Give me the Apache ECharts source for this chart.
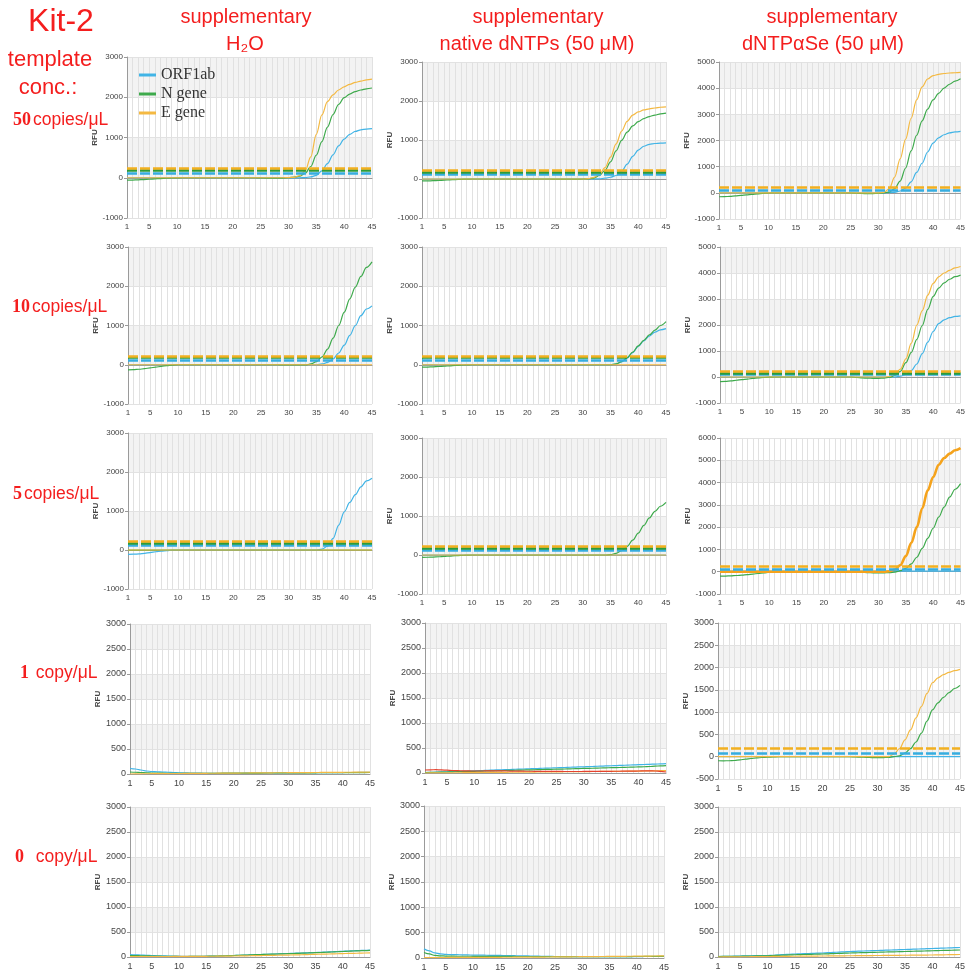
<!DOCTYPE html>
<html><head><meta charset="utf-8">
<script src="https://cdn.jsdelivr.net/npm/echarts@6/dist/echarts.min.js"></script>
<style>html,body{margin:0;padding:0;background:#fff}#c{width:968px;height:980px}</style>
</head><body><div id="c"></div><script>
const cycles = ['1','2','3','4','5','6','7','8','9','10','11','12','13','14','15','16','17','18','19','20','21','22','23','24','25','26','27','28','29','30','31','32','33','34','35','36','37','38','39','40','41','42','43','44','45'];
const xTickLabels = ['1','5','10','15','20','25','30','35','40','45'];
const genes = ['ORF1ab','N gene','E gene'];
const columnTitles = [['supplementary','H₂O'],['supplementary','native dNTPs (50 μM)'],['supplementary','dNTPαSe (50 μM)']];
const rowLabels = [['50','copies/μL'],['10','copies/μL'],['5','copies/μL'],['1',' copy/μL'],['0','  copy/μL']];

// row 1: 50 copies/uL
const h2o50_orf = [0,0,0,0,0,0,0,0,0,0, 0,0,0,0,0,0,0,0,0,0, 0,0,0,0,0,0,0,-5,-5,-5, -5,0,5,20,60, 170,350,570,790,960, 1080,1150,1190,1210,1220];
const h2o50_n = [-60,-58,-52,-45,-37,-28,-20,-12,-6,-2, 0,0,0,0,0,0,0,0,0,0, 0,0,0,0,-5,-8,-10,-10,-8,0, 15,40,110,280,560, 900,1260,1570,1820,1990, 2080,2140,2180,2210,2230];
const h2o50_e = [0,0,0,0,0,0,0,0,0,0, 0,0,0,0,0,0,0,0,0,0, 0,0,0,0,0,0,0,0,0,5, 10,50,170,520,1080, 1560,1890,2060,2180,2260, 2320,2370,2400,2430,2450];
const dntp50_orf = [0,0,0,0,0,0,0,0,0,0, 0,0,0,0,0,0,0,0,0,0, 0,0,0,0,0,0,0,0,0,0, 0,0,5,20,45, 90,200,380,580,740, 840,890,910,920,925];
const dntp50_n = [-50,-48,-44,-38,-30,-22,-15,-8,-3,0, 0,0,0,0,0,0,0,0,0,0, 0,0,0,0,-5,-5,-5,-5,-5,0, 5,25,90,220,440, 720,990,1200,1360,1470, 1550,1600,1640,1670,1690];
const dntp50_e = [0,0,0,0,0,0,0,0,0,0, 0,0,0,0,0,0,0,0,0,0, 0,0,0,0,0,0,0,0,0,0, 10,40,120,290,560, 900,1230,1480,1640,1720, 1770,1800,1820,1840,1850];
const se50_orf = [0,0,0,0,0,0,0,0,0,0, 0,0,0,0,0,0,0,0,0,0, 0,0,0,0,0,0,0,0,0,0, 0,5,20,70,180, 420,780,1130,1560,1900, 2100,2220,2290,2330,2350];
const se50_n = [-150,-145,-135,-120,-100,-80,-60,-40,-20,-8, 0,0,0,0,0,0,0,0,0,0, 0,0,0,0,-5,-15,-25,-30,-30,-20, 0,30,160,450,950, 1600,2200,2750,3200,3550, 3800,4000,4150,4270,4360];
const se50_e = [0,0,0,0,0,0,0,0,0,0, 0,0,0,0,0,0,0,0,0,0, 0,0,0,0,0,0,0,0,0,0, 20,150,600,1300,2050, 2850,3550,4050,4350,4480, 4530,4560,4580,4590,4600];

// row 2: 10 copies/uL
const h2o10_orf = [0,0,0,0,0,0,0,0,0,0, 0,0,0,0,0,0,0,0,0,0, 0,0,0,0,0,0,0,0,0,0, 0,0,0,0,0, 20,60,150,300,500, 750,1000,1250,1420,1500];
const h2o10_n = [-130,-125,-115,-100,-80,-60,-40,-20,-8,0, 0,0,0,0,0,0,0,0,0,0, 0,0,0,0,0,0,0,0,-5,-5, -5,-5,-5,20,80, 200,400,680,1000,1340, 1680,1980,2250,2480,2620];
const h2o10_e = [0,0,0,0,0,0,0,0,0,0, 0,0,0,0,0,0,0,0,0,0, 0,0,0,0,0,0,0,0,0,0, 0,0,0,0,0, 0,0,0,0,0, 0,0,0,0,0];
const dntp10_orf = [0,0,0,0,0,0,0,0,0,0, 0,0,0,0,0,0,0,0,0,0, 0,0,0,0,0,0,0,0,0,0, 0,0,0,0,0, 15,70,170,310,470, 610,730,830,890,920];
const dntp10_n = [-60,-58,-52,-45,-36,-27,-18,-10,-4,0, 0,0,0,0,0,0,0,0,0,0, 0,0,0,0,0,0,0,0,0,0, 0,0,0,0,0, 20,80,180,320,480, 620,760,880,1000,1100];
const dntp10_e = [0,0,0,0,0,0,0,0,0,0, 0,0,0,0,0,0,0,0,0,0, 0,0,0,0,0,0,0,0,0,0, 0,0,0,0,0, 0,0,0,0,0, 0,0,0,0,0];
const se10_orf = [0,0,0,0,0,0,0,0,0,0, 0,0,0,0,0,0,0,0,0,0, 0,0,0,0,0,0,0,0,0,0, 0,0,0,30,100, 250,500,900,1340,1750, 2050,2200,2280,2330,2350];
const se10_n = [-180,-170,-150,-125,-100,-80,-55,-35,-20,-8, 0,0,0,0,0,0,0,0,0,0, 0,0,0,0,0,-20,-35,-45,-50,-50, -40,-10,60,220,550, 950,1450,1980,2600,3100, 3420,3620,3760,3860,3920];
const se10_e = [0,0,0,0,0,0,0,0,0,0, 0,0,0,0,0,0,0,0,0,0, 0,0,0,0,0,0,0,0,0,0, 0,20,100,300,700, 1300,2000,2550,3150,3600, 3850,4000,4100,4200,4250];

// row 3: 5 copies/uL
const h2o5_orf = [-110,-108,-100,-85,-65,-45,-28,-15,-5,0, 0,0,0,0,0,0,0,0,0,0, 0,0,0,0,0,0,0,0,0,0, 0,0,0,0,0, 20,100,300,640,980, 1220,1420,1620,1770,1840];
const h2o5_n = [-5,-5,-4,-3,-2,-1,0,0,0,0, 0,0,0,0,0,0,0,0,0,0, 0,0,0,0,0,0,0,0,0,0, 0,0,0,0,0, 0,0,0,0,0, 0,0,0,0,0];
const h2o5_e = [0,0,0,0,0,0,0,0,0,0, 0,0,0,0,0,0,0,0,0,0, 0,0,0,0,0,0,0,0,0,0, 0,0,0,0,0, 0,0,0,0,0, 0,0,0,0,0];
const dntp5_orf = [0,0,0,0,0,0,0,0,0,0, 0,0,0,0,0,0,0,0,0,0, 0,0,0,0,0,0,0,0,0,0, 0,0,0,0,0, 0,0,0,0,0, 0,0,0,0,0];
const dntp5_n = [-60,-58,-52,-45,-36,-27,-18,-10,-4,0, 0,0,0,0,0,0,0,0,0,0, 0,0,0,0,0,0,0,0,0,0, 0,0,0,0,10, 40,110,220,380,560, 760,950,1120,1250,1350];
const dntp5_e = [0,0,0,0,0,0,0,0,0,0, 0,0,0,0,0,0,0,0,0,0, 0,0,0,0,0,0,0,0,0,0, 0,0,0,0,0, 0,0,0,0,0, 0,0,0,0,0];
const se5_orf = [30,30,30,30,30,30,30,30,30,30, 30,30,30,30,30,30,30,30,30,30, 30,30,30,30,30,30,30,30,30,30, 30,30,30,30,30, 30,30,30,30,30, 30,30,30,30,30];
const se5_n = [-200,-195,-185,-170,-150,-130,-105,-80,-50,-25, -10,0,0,0,0,0,0,0,0,0, 0,0,0,0,0,-10,-25,-40,-50,-50, -50,-45,-20,50,150, 350,650,1050,1500,1950, 2450,2900,3350,3700,3950];
const se5_e = [0,0,0,0,0,0,0,0,0,0, 0,0,0,0,0,0,0,0,0,0, 0,0,0,0,0,0,0,0,0,0, 0,20,100,300,700, 1300,2000,2850,3650,4250, 4800,5100,5300,5450,5550];

// row 4: 1 copy/uL
const h2o1_orf = [110,100,80,60,50,45,40,35,30,25, 22,20,18,16,15,15,15,15,15,15, 15,16,17,18,18,19,20,20,21,22, 22,23,24,25,25, 26,27,28,28,29, 30,30,31,31,32];
const h2o1_n = [40,35,30,25,20,18,16,15,15,15, 15,15,15,15,15,15,15,16,16,17, 17,18,18,19,19,20,20,21,21,22, 22,23,23,24,24, 25,25,26,26,27, 27,28,28,29,30];
const h2o1_e = [0,2,4,5,6,7,8,9,10,10, 11,12,13,13,14,15,16,17,17,18, 19,20,21,21,22,23,24,25,25,26, 27,28,29,29,30, 31,32,33,33,34, 35,36,37,37,38];
const dntp1_orf = [10,14,17,21,24,28,33,36,40,45, 48,53,56,61,64,69,72,77,80,85, 88,93,97,100,105,108,113,116,121,124, 129,132,137,141,145, 149,153,158,161,166, 170,174,178,183,188];
const dntp1_n = [10,12,15,18,20,23,26,29,31,34, 37,40,43,45,48,51,54,57,60,62, 65,68,71,74,77,79,82,85,88,91, 94,97,100,103,106, 109,112,115,118,121, 125,130,137,143,148];
const dntp1_e = [0,1,2,3,3,4,5,6,7,8, 9,10,11,12,13,14,15,16,17,18, 19,20,21,22,23,24,25,26,27,28, 29,30,31,32,33, 34,35,36,37,38, 40,42,44,46,48];
const dntp1_other = [60,64,66,62,56,50,46,43,41,40, 40,41,42,43,42,40,38,37,36,35, 34,33,32,32,31,31,30,30,30,31, 32,32,33,33,34, 35,36,37,38,40, 42,42,40,32,20];
const se1_orf = [0,0,0,0,0,0,0,0,0,0, 0,0,0,0,0,0,0,0,0,0, 0,0,0,0,0,0,0,0,0,0, 0,0,0,0,0, 0,0,0,0,0, 0,0,0,0,0];
const se1_n = [-90,-92,-90,-85,-70,-55,-40,-28,-18,-10, -5,0,0,0,0,0,0,0,0,0, 0,0,0,0,0,-5,-10,-15,-20,-20, -20,-15,0,20,80, 180,330,530,800,1050, 1210,1330,1440,1530,1600];
const se1_e = [0,0,0,0,0,0,0,0,0,0, 0,0,0,0,0,0,0,0,0,0, 0,0,0,0,0,0,0,0,0,0, 0,0,60,180,380, 600,870,1130,1420,1660, 1770,1840,1890,1930,1960];

// row 5: 0 copy/uL
const h2o0_orf = [50,45,40,35,30,25,22,20,18,16, 15,15,15,15,16,18,20,23,26,30, 33,37,41,45,50,54,58,62,66,70, 74,78,82,86,90, 95,100,105,110,115, 120,125,130,135,140];
const h2o0_n = [30,28,25,22,20,18,15,13,12,10, 10,11,12,13,15,17,20,23,27,30, 34,38,42,46,50,53,56,60,63,66, 70,74,78,82,86, 90,95,100,105,110, 115,120,124,128,132];
const h2o0_e = [10,10,10,10,10,10,10,10,11,11, 12,12,13,13,14,15,16,17,18,20, 21,23,25,27,29,31,33,35,37,39, 41,44,47,50,53, 56,59,62,65,68, 71,74,77,80,83];
const dntp0_orf = [180,140,100,80,70,68,65,63,60,58, 57,55,53,51,50,48,46,44,42,40, 38,36,34,32,30,29,28,27,26,25, 25,25,25,26,26, 27,27,28,28,29, 29,30,30,30,31];
const dntp0_n = [110,80,50,42,38,36,35,35,35,34, 34,33,33,32,32,31,31,30,30,30, 29,29,28,28,27,27,26,26,25,25, 25,26,26,27,27, 28,28,29,29,30, 30,31,31,32,32];
const dntp0_e = [10,10,10,10,10,11,11,11,12,12, 12,13,13,14,14,15,15,16,16,17, 18,18,19,20,21,22,23,24,25,26, 27,28,29,30,31, 32,33,34,35,36, 37,38,39,40,41];
const se0_orf = [10,12,14,17,20,23,25,27,29,30, 35,42,50,55,60,64,68,72,76,80, 86,92,98,104,110,114,118,122,126,130, 134,138,142,146,150, 154,158,162,166,170, 174,178,182,186,190];
const se0_n = [10,11,12,13,15,17,19,21,23,25, 29,33,37,41,45,48,51,54,57,60, 64,68,72,76,80,83,86,89,92,95, 98,101,104,107,110, 113,116,119,122,125, 128,131,134,137,140];
const se0_e = [0,1,2,3,4,5,6,7,8,10, 11,12,13,14,15,16,17,18,19,20, 21,22,23,24,25,26,27,28,29,30, 31,32,33,34,35, 36,37,38,39,40, 42,44,46,48,50];

// thresholds [ORF1ab, N gene, E gene] per panel
const thresholds = [
  [[120,180,230],[120,185,225],[110,null,215]],
  [[120,180,225],[120,180,225],[100,160,220]],
  [[120,180,225],[120,180,225],[100,null,230]],
  [[null,null,null],[null,null,null],[70,null,180]],
  [[null,null,null],[null,null,null],[null,null,null]]
];
// y axis [min, max, interval] per panel
const yRanges = [
  [[-1000,3000,1000],[-1000,3000,1000],[-1000,5000,1000]],
  [[-1000,3000,1000],[-1000,3000,1000],[-1000,5000,1000]],
  [[-1000,3000,1000],[-1000,3000,1000],[-1000,6000,1000]],
  [[0,3000,500],[0,3000,500],[-500,3000,500]],
  [[0,3000,500],[0,3000,500],[0,3000,500]]
];

const panels = [
  [[h2o50_orf,h2o50_n,h2o50_e],[dntp50_orf,dntp50_n,dntp50_e],[se50_orf,se50_n,se50_e]],
  [[h2o10_orf,h2o10_n,h2o10_e],[dntp10_orf,dntp10_n,dntp10_e],[se10_orf,se10_n,se10_e]],
  [[h2o5_orf,h2o5_n,h2o5_e],[dntp5_orf,dntp5_n,dntp5_e],[se5_orf,se5_n,se5_e]],
  [[h2o1_orf,h2o1_n,h2o1_e],[dntp1_orf,dntp1_n,dntp1_e,dntp1_other],[se1_orf,se1_n,se1_e]],
  [[h2o0_orf,h2o0_n,h2o0_e],[dntp0_orf,dntp0_n,dntp0_e],[se0_orf,se0_n,se0_e]]
];

// layout (left, top, width, height) per panel
const layout = [
  [[127,57,245,161],[422,62,244,156],[719,62,243,157]],
  [[128,247,244,157],[422,247,244,157],[720,247,242,156]],
  [[128,433,244,156],[422,438,244,156],[720,438,242,156]],
  [[130,624,240,150],[425,623,241,150],[718,623,244,156]],
  [[130,807,240,150],[424,806,240,152],[718,807,244,150]]
];
const lineColors = ['#41b4e6','#3eaa4c','#f4b942'];
const thrColors = ['#36ade0','#2a9c3a','#f2b020'];
const otherColor = '#e5432f';
const red = '#f41e1e';

const grids = [], xAxes = [], yAxes = [], series = [];
let k = 0;
for (let r = 0; r < 5; r++) {
  for (let c = 0; c < 3; c++) {
    const [l, t, w, h] = layout[r][c];
    const [mn, mx, iv] = yRanges[r][c];
    const fs = r < 3 ? 8 : 9;
    grids.push({left: l, top: t, width: w, height: h, containLabel: false});
    xAxes.push({
      type: 'category', data: cycles, gridIndex: k, boundaryGap: false,
      axisLine: {show: true, lineStyle: {color: '#9a9a9a', width: 1}},
      axisTick: {show: false},
      axisLabel: {interval: (i, v) => xTickLabels.includes(v), fontSize: fs, color: '#444', fontFamily: 'Liberation Sans', margin: 5},
      splitLine: {show: true, interval: 0, lineStyle: {color: '#e1e1e1', width: 1}}
    });
    yAxes.push({
      type: 'value', gridIndex: k, min: mn, max: mx, interval: iv,
      name: 'RFU', nameLocation: 'middle', nameGap: 25,
      nameTextStyle: {fontSize: 8, color: '#444', fontFamily: 'Liberation Sans', fontWeight: 'bold'},
      axisLine: {show: true, lineStyle: {color: '#9a9a9a', width: 1}},
      axisTick: {show: true, length: 3, lineStyle: {color: '#9a9a9a'}},
      axisLabel: {fontSize: fs, color: '#444', fontFamily: 'Liberation Sans', margin: 4, showMinLabel: true, showMaxLabel: true,
        formatter: v => String(v)},
      splitLine: {show: true, lineStyle: {color: '#e2e2e2', width: 1}},
      splitArea: {show: true, areaStyle: {color: ['#ffffff', '#f3f3f3']}}
    });
    const sets = panels[r][c];
    for (let g = 0; g < sets.length; g++) {
      const isOther = g === 3;
      const color = isOther ? otherColor : lineColors[g];
      const thick = (r === 2 && c === 2 && g === 2);
      const s = {
        type: 'line', name: isOther ? 'other' : genes[g], data: sets[g],
        xAxisIndex: k, yAxisIndex: k, smooth: 0.35, smoothMonotone: 'x',
        showSymbol: false, symbol: 'none', silent: true,
        lineStyle: {color: thick ? '#f5a31c' : color, width: thick ? 2.6 : 1.2},
        itemStyle: {color: color}, emphasis: {disabled: true}, z: 3
      };
      const th = isOther ? null : thresholds[r][c][g];
      if (th != null) {
        s.markLine = {
          silent: true, symbol: ['none', 'none'], label: {show: false},
          lineStyle: {color: thrColors[g], width: 2.5, type: [10, 3], opacity: 1},
          emphasis: {disabled: true},
          data: [{yAxis: th}]
        };
      }
      series.push(s);
    }
    k++;
  }
}

const graphics = [];
function txt(text, x, y, size, align, extra) {
  graphics.push({type: 'text', x: x, y: y, silent: true,
    style: Object.assign({text: text, fill: red, fontSize: size, fontFamily: 'Liberation Sans', align: align || 'center', verticalAlign: 'middle'}, extra || {})});
}
txt('Kit-2', 61, 22, 32);
txt('template', 50, 60, 22);
txt('conc.:', 48, 88, 22);
const colCenters = [[246, 245], [538, 537], [832, 823]];
for (let c = 0; c < 3; c++) {
  txt(columnTitles[c][0], colCenters[c][0], 17, 20);
  txt(columnTitles[c][1], colCenters[c][1], 44, 20);
}
const rowLabelPos = [[13, 120], [12, 307], [13, 494], [20, 673], [15, 857]];
for (let r = 0; r < 5; r++) {
  graphics.push({type: 'text', x: rowLabelPos[r][0], y: rowLabelPos[r][1], silent: true,
    style: {text: '{b|' + rowLabels[r][0] + '}{n|' + rowLabels[r][1] + '}', align: 'left', verticalAlign: 'middle',
      rich: {
        b: {fontFamily: 'Liberation Serif', fontWeight: 'bold', fontSize: 18, fill: red, padding: [0, 2, 0, 0]},
        n: {fontFamily: 'Liberation Sans', fontSize: 17.5, fill: red}
      }}});
}

const chart = echarts.init(document.getElementById('c'), null, {renderer: 'canvas'});
chart.setOption({
  animation: false,
  backgroundColor: '#ffffff',
  grid: grids, xAxis: xAxes, yAxis: yAxes, series: series,
  legend: {
    data: genes, orient: 'vertical', left: 134, top: 62, icon: 'rect',
    itemWidth: 17, itemHeight: 3, itemGap: 3, selectedMode: false,
    textStyle: {fontFamily: 'Liberation Serif', fontSize: 16, color: '#333', lineHeight: 16}
  },
  graphic: graphics
});
</script></body></html>
